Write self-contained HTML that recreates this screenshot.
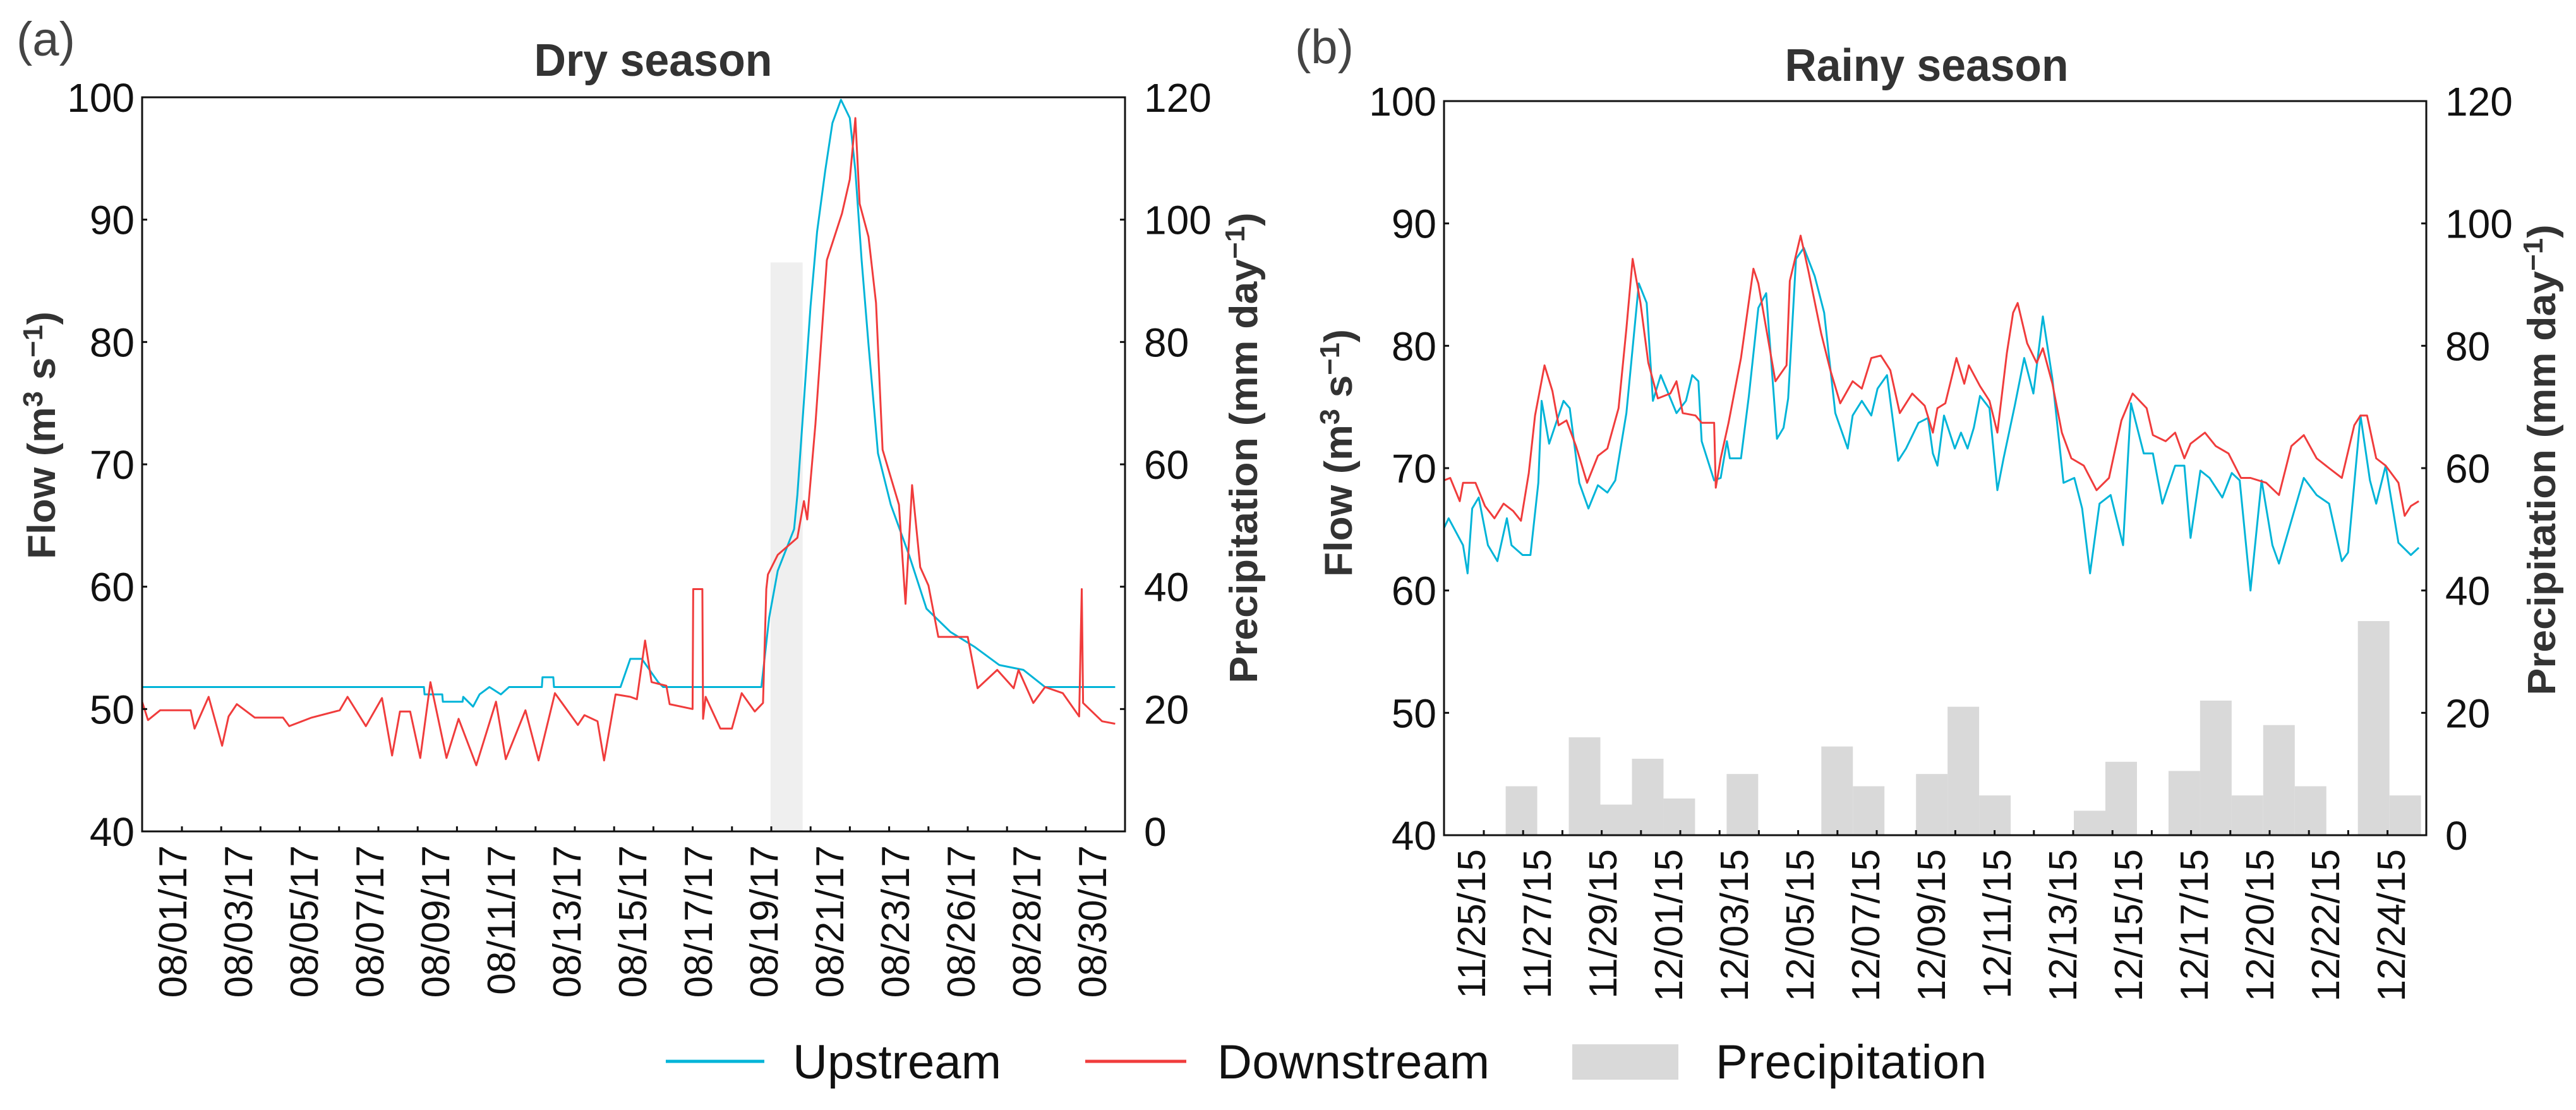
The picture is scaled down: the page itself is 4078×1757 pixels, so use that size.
<!DOCTYPE html>
<html><head><meta charset="utf-8">
<style>
html,body{margin:0;padding:0;background:#fff;}
svg{display:block;font-family:"Liberation Sans",sans-serif;}
</style></head>
<body>
<svg id="fig" width="4078" height="1757" viewBox="0 0 4078 1757" xmlns="http://www.w3.org/2000/svg">
<rect x="0" y="0" width="4078" height="1757" fill="#fff"/>
<g id="pa"></g>
<g id="pb"></g>
<g id="legend">
  <line x1="1054" y1="1680" x2="1210" y2="1680" stroke="#00b4d8" stroke-width="5"/>
  <text x="1255" y="1707" font-size="76" fill="#111" textLength="330">Upstream</text>
  <line x1="1718" y1="1680" x2="1878" y2="1680" stroke="#f03c3c" stroke-width="5"/>
  <text x="1927" y="1707" font-size="76" fill="#111" textLength="431">Downstream</text>
  <rect x="2489" y="1653" width="168" height="56" fill="#d9d9d9"/>
  <text x="2716" y="1707" font-size="76" fill="#111" textLength="429">Precipitation</text>
</g>
</svg>
<script>
// ---------- Panel (a) data: Dry season ----------
const dryLabels = ["08/01/17","08/03/17","08/05/17","08/07/17","08/09/17","08/11/17","08/13/17","08/15/17","08/17/17","08/19/17","08/21/17","08/23/17","08/26/17","08/28/17","08/30/17"];
const dryUpT = [0,8.6,8.62,9.16,9.18,9.78,9.8,10.1,10.3,10.6,10.95,11.2,12.2,12.22,12.55,12.57,14.6,14.9,15.25,15.75,15.9,18.9,19.14,19.4,19.9,20.0,20.2,20.4,20.6,20.85,21.07,21.33,21.6,21.77,21.96,22.17,22.46,22.85,23.42,23.94,24.67,25.4,26.16,26.9,27.56,29.7];
const dryUpV = [51.8,51.8,51.2,51.2,50.6,50.6,51,50.2,51.2,51.8,51.2,51.8,51.8,52.6,52.6,51.8,51.8,54.1,54.1,52.2,51.8,51.8,57.5,61.3,64.7,67.5,75.2,82.9,89,94,97.9,99.8,98.3,94,86.7,79.8,70.9,66.7,62.5,58.2,56.3,55.1,53.6,53.2,51.8,51.8];
const dryDownT = [0,0.18,0.55,1.48,1.6,2.03,2.44,2.64,2.89,3.44,4.3,4.49,5.17,6.03,6.27,6.83,7.32,7.63,7.87,8.18,8.49,8.8,9.29,9.66,10.2,10.8,11.1,11.7,12.1,12.6,13.3,13.5,13.9,14.1,14.45,14.9,15.1,15.35,15.55,16.0,16.1,16.8,16.82,17.1,17.12,17.2,17.65,18.0,18.3,18.7,18.95,19.05,19.1,19.4,20.0,20.2,20.3,20.55,20.9,21.36,21.6,21.77,21.9,22.17,22.4,22.6,22.9,23.1,23.3,23.5,23.75,24.0,24.3,25.2,25.5,26.1,26.6,26.75,27.2,27.56,28.1,28.6,28.68,28.72,29.3,29.7];
const dryDownV = [50.6,49.1,49.9,49.9,48.4,51.0,47.0,49.4,50.4,49.3,49.3,48.6,49.3,49.9,51.0,48.6,50.9,46.2,49.8,49.8,46.0,52.2,46.0,49.2,45.4,50.6,45.9,49.9,45.8,51.3,48.7,49.5,49.0,45.8,51.2,51.0,50.8,55.6,52.2,51.9,50.4,50.0,59.8,59.8,49.2,51.0,48.4,48.4,51.3,49.8,50.5,59.8,61,62.6,64,67,65.5,73.3,86.7,90.5,93.3,98.3,91.3,88.6,83.2,71.2,68.5,66.7,58.6,68.3,61.6,60.1,55.9,55.9,51.7,53.2,51.7,53.2,50.5,51.8,51.3,49.4,59.8,50.5,49,48.8];
const dryPrecipStart = [19.18];
const dryPrecipV = [93];

// ---------- Panel (b) data: Rainy season ----------
const rainyLabels = ["11/25/15","11/27/15","11/29/15","12/01/15","12/03/15","12/05/15","12/07/15","12/09/15","12/11/15","12/13/15","12/15/15","12/17/15","12/20/15","12/22/15","12/24/15"];
const rainyUpT = [0,0.14,0.58,0.72,0.86,1.06,1.34,1.63,1.92,2.06,2.4,2.64,2.88,2.98,3.21,3.65,3.84,4.13,4.41,4.7,4.99,5.23,5.57,5.95,6.19,6.38,6.62,7.1,7.39,7.58,7.77,7.87,8.25,8.45,8.64,8.73,9.07,9.31,9.6,9.84,10.17,10.37,10.51,10.75,10.99,11.32,11.61,11.95,12.33,12.48,12.76,13.05,13.24,13.53,13.87,14.11,14.49,14.78,14.93,15.07,15.27,15.6,15.79,15.99,16.18,16.37,16.66,16.9,17.09,17.43,17.72,18.0,18.29,18.58,18.92,19.25,19.49,19.73,20.02,20.36,20.74,20.98,21.37,21.65,21.94,22.33,22.61,22.8,23.1,23.38,23.77,24.06,24.3,24.63,24.97,25.3,25.5,25.88,26.26,26.65,27.03,27.42,27.61,27.99,28.28,28.47,28.76,29.15,29.53,29.77];
const rainyUpV = [65.1,65.9,63.7,61.4,66.7,67.6,63.7,62.4,65.9,63.7,62.9,62.9,68.8,75.5,72.0,75.5,74.9,68.8,66.7,68.6,68.0,69.0,74.5,85.1,83.5,75.5,77.6,74.5,75.5,77.6,77.1,72.2,69.0,69.2,72.2,70.8,70.8,75.9,83.1,84.3,72.4,73.3,75.7,87.1,88.0,85.7,82.7,74.5,71.6,74.3,75.5,74.3,76.5,77.6,70.6,71.6,73.7,74.1,71.2,70.2,74.3,71.6,72.9,71.6,73.3,75.9,74.9,68.2,70.8,75.1,79.0,76.1,82.4,77.3,68.8,69.2,66.7,61.4,67.1,67.8,63.7,75.3,71.2,71.2,67.1,70.2,70.2,64.3,69.8,69.2,67.6,69.6,69.0,60.0,69.0,63.7,62.2,65.7,69.2,67.8,67.1,62.4,63.1,74.3,69.0,67.1,70.2,63.9,62.9,63.5];
const rainyDownT = [0,0.19,0.48,0.58,0.96,1.25,1.54,1.82,2.11,2.35,2.59,2.78,3.07,3.31,3.5,3.74,4.03,4.37,4.7,4.99,5.33,5.57,5.76,6.0,6.24,6.53,6.91,7.1,7.29,7.68,7.87,8.25,8.3,8.45,8.69,9.07,9.45,9.6,9.79,10.12,10.46,10.56,10.89,11.13,11.52,11.8,12.1,12.48,12.76,13.05,13.34,13.63,13.92,14.3,14.68,14.93,15.07,15.31,15.65,15.89,16.03,16.37,16.66,16.9,17.19,17.38,17.52,17.81,18.1,18.29,18.58,18.87,19.16,19.54,19.93,20.31,20.69,21.03,21.46,21.65,22.04,22.33,22.61,22.8,23.24,23.57,23.96,24.34,24.63,25.11,25.5,25.88,26.26,26.65,27.03,27.42,27.8,27.99,28.19,28.47,28.76,29.15,29.34,29.53,29.77];
const rainyDownV = [69.0,69.2,67.3,68.8,68.8,66.9,65.9,67.1,66.5,65.7,69.6,74.3,78.4,76.3,73.5,73.9,71.8,68.8,71.0,71.6,74.9,81.4,87.1,83.5,78.6,75.7,76.1,77.1,74.5,74.3,73.7,73.7,68.4,70.8,73.7,79.0,86.3,85.1,82.2,77.1,78.4,85.3,89.0,86.1,81.0,78.0,75.3,77.1,76.5,79.0,79.2,78.0,74.5,76.1,75.1,72.9,74.9,75.3,79.0,76.9,78.4,76.7,75.5,72.9,79.4,82.7,83.5,80.2,78.6,79.8,76.9,72.9,70.8,70.2,68.2,69.2,73.9,76.1,74.9,72.7,72.2,72.9,70.8,72.0,72.9,71.8,71.2,69.2,69.2,68.8,67.8,71.8,72.7,70.8,70.0,69.2,73.5,74.3,74.3,70.8,70.2,68.8,66.1,66.9,67.3];
const rainyPrecipSlot = [0,2,3,4,5,7,10,11,13,14,15,18,19,21,22,23,24,25,27,28];
const rainyPrecipV = [8,16,5,12.5,6,10,14.5,8,10,21,6.5,4,12,10.5,22,6.5,18,8,35,6.5];

const NS = "http://www.w3.org/2000/svg";
function mk(parent, tag, attrs, text) {
  const e = document.createElementNS(NS, tag);
  for (const k in attrs) e.setAttribute(k, attrs[k]);
  if (text !== undefined) e.textContent = text;
  parent.appendChild(e);
  return e;
}

function drawPanel(cfg) {
  const g = document.getElementById(cfg.id);
  const L = cfg.left, R = cfg.right, T = cfg.top, B = cfg.bottom;
  const xs = t => L + (t / 30) * (R - L);
  const yF = v => B - (v - 40) / 60 * (B - T);
  const yP = v => B - v / 120 * (B - T);

  cfg.bars.forEach(b => {
    const r = mk(g, "rect", {x: xs(b.t0), y: yP(b.v), width: xs(b.t0 + b.w) - xs(b.t0), height: B - yP(b.v), fill: cfg.barColor});
    
    
  });

  function line(T_, V_, color, name) {
    let d = "";
    T_.forEach((t, i) => { d += (i ? "L" : "M") + xs(t).toFixed(1) + " " + yF(V_[i]).toFixed(1); });
    const p = mk(g, "path", {d: d, fill: "none", stroke: color, "stroke-width": 3, "stroke-linejoin": "round"});
    
    
  }
  line(cfg.upT, cfg.upV, "#00b4d8", "upstream-line");
  line(cfg.downT, cfg.downV, "#f03c3c", "downstream-line");

  const fr = mk(g, "rect", {x: L, y: T, width: R - L, height: B - T, fill: "none", stroke: "#111", "stroke-width": 3});
  
  

  [40,50,60,70,80,90,100].forEach(v => {
    const y = yF(v);
    mk(g, "line", {x1: L, y1: y, x2: L + 8, y2: y, stroke: "#111", "stroke-width": 3});
    const t = mk(g, "text", {x: L - 12, y: y + 23, "font-size": 64, "text-anchor": "end", fill: "#111"}, String(v));
    
    
  });
  [0,20,40,60,80,100,120].forEach(v => {
    const y = yP(v);
    mk(g, "line", {x1: R - 8, y1: y, x2: R, y2: y, stroke: "#111", "stroke-width": 3});
    const t = mk(g, "text", {x: R + 30, y: y + 23, "font-size": 64, fill: "#111"}, String(v));
    
    
  });
  for (let x = L + 63; x < R - 20; x += 62.2) {
    mk(g, "line", {x1: x, y1: B, x2: x, y2: B - 8, stroke: "#111", "stroke-width": 3});
  }
  cfg.labels.forEach((s, i) => {
    const x = L + cfg.labelOffset + i * 104;
    const t = mk(g, "text", {transform: "translate(" + (x + 22) + "," + (B + 22) + ") rotate(-90)", "font-size": 62, "text-anchor": "end", fill: "#111"}, s);
    
    
  });

  const tt = mk(g, "text", {x: cfg.titleX, y: cfg.titleY, "font-size": 72, "font-weight": "bold", "text-anchor": "middle", fill: "#333", textLength: cfg.titleW, lengthAdjust: "spacingAndGlyphs"}, cfg.title);
  
  
  const pl = mk(g, "text", {x: cfg.tagX, y: cfg.tagY, "font-size": 76, fill: "#444"}, cfg.tag);
  
  
  const yl = mk(g, "text", {transform: "translate(" + cfg.ylX + "," + cfg.ylY + ") rotate(-90)", "font-size": 62, "font-weight": "bold", "text-anchor": "middle", fill: "#333", textLength: 392, lengthAdjust: "spacingAndGlyphs"});
  
  
  yl.innerHTML = 'Flow (m<tspan font-size="44" dy="-20">3</tspan><tspan dy="20"> s</tspan><tspan font-size="44" dy="-20">−1</tspan><tspan dy="20">)</tspan>';
  const yr = mk(g, "text", {transform: "translate(" + cfg.yrX + "," + cfg.yrY + ") rotate(-90)", "font-size": 62, "font-weight": "bold", "text-anchor": "middle", fill: "#333", textLength: 745, lengthAdjust: "spacingAndGlyphs"});
  
  
  yr.innerHTML = 'Precipitation (mm day<tspan font-size="44" dy="-20">−1</tspan><tspan dy="20">)</tspan>';
}

drawPanel({
  id: "pa", left: 225, right: 1781, top: 154, bottom: 1316,
  upT: dryUpT, upV: dryUpV, downT: dryDownT, downV: dryDownV,
  bars: dryPrecipStart.map((t, i) => ({t0: t, w: 0.98, v: dryPrecipV[i]})),
  barColor: "#efefef",
  labels: dryLabels, labelOffset: 48,
  title: "Dry season", titleX: 1034, titleY: 120, titleW: 377,
  tag: "(a)", tagX: 26, tagY: 88,
  ylX: 87, ylY: 689, yrX: 1990, yrY: 709
});
drawPanel({
  id: "pb", left: 2286, right: 3841, top: 160, bottom: 1322,
  upT: rainyUpT, upV: rainyUpV, downT: rainyDownT, downV: rainyDownV,
  bars: rainyPrecipSlot.map((s, i) => ({t0: 1.883 + s * 0.964, w: 0.964, v: rainyPrecipV[i]})),
  barColor: "#d9d9d9",
  labels: rainyLabels, labelOffset: 43,
  title: "Rainy season", titleX: 3050, titleY: 128, titleW: 449,
  tag: "(b)", tagX: 2050, tagY: 100,
  ylX: 2140, ylY: 717, yrX: 4045, yrY: 728
});
</script>
</body></html>
